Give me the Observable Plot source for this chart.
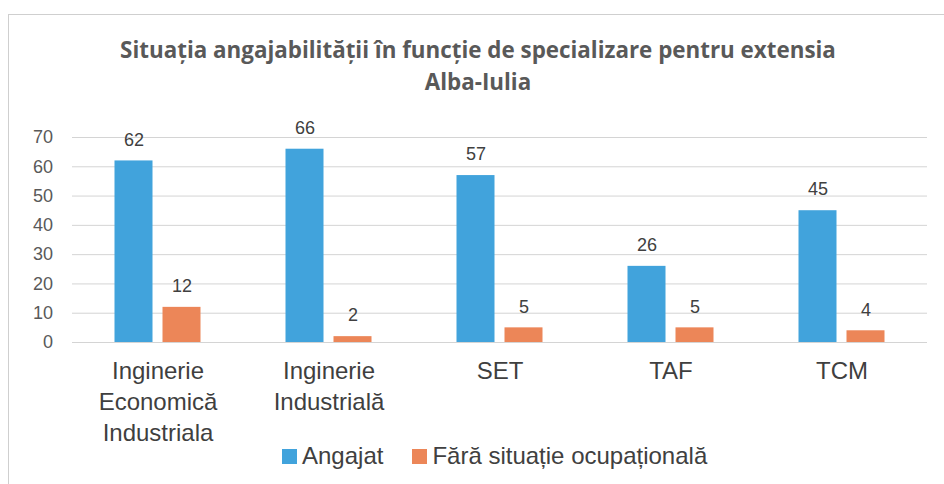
<!DOCTYPE html>
<html><head><meta charset="utf-8">
<script src="https://cdn.jsdelivr.net/npm/d3@7"></script>
<script src="https://cdn.jsdelivr.net/npm/@observablehq/plot@0.6"></script>
<style>
html,body{margin:0;padding:0;background:#fff;}
body{width:944px;height:484px;position:relative;overflow:hidden;font-family:"Liberation Sans",Arial,sans-serif;}
#frame{position:absolute;left:8px;top:14px;width:940px;height:480px;border-left:1px solid #cfcfcf;border-top:1px solid #cfcfcf;}
#title{position:absolute;left:8px;width:940px;top:34px;text-align:center;font-family:"Open Sans",sans-serif;font-weight:bold;color:#595959;line-height:32px;font-size:18px;white-space:nowrap;}
#chart{position:absolute;left:0;top:100px;}
#legend{position:absolute;left:282px;top:441px;height:30px;display:flex;align-items:center;font-size:24px;color:#404040;white-space:nowrap;}
#legend .sw{display:inline-block;width:15px;height:15px;margin-right:5px;}
#legend .item{display:flex;align-items:center;margin-right:29px;}
</style>
</head><body>
<div id="frame"></div>
<div id="title"><span id="t1">Situația angajabilității în funcție de specializare pentru extensia</span><br>Alba-Iulia</div>
<div id="chart"></div>
<div id="legend"></div>
<script>
const categories = ["Inginerie\nEconomică\nIndustriala", "Inginerie\nIndustrială", "SET", "TAF", "TCM"];
const seriesNames = ["Angajat", "Fără situație ocupațională"];
const angajat = [62, 66, 57, 26, 45];
const faraSituatie = [12, 2, 5, 5, 4];
const yTicks = [0, 10, 20, 30, 40, 50, 60, 70];
const colors = ["#41a3dc", "#ec8658"];

const data = [];
categories.forEach((c, i) => {
  data.push({category: c, series: seriesNames[0], value: angajat[i]});
  data.push({category: c, series: seriesNames[1], value: faraSituatie[i]});
});

// fit title width
(function(){
  const t = document.getElementById("t1");
  const target = 716;
  const w = t.getBoundingClientRect().width;
  if (w > 0) {
    const fs = 18 * target / w;
    document.getElementById("title").style.fontSize = fs.toFixed(2) + "px";
  }
})();

const chart = Plot.plot({
  width: 944,
  height: 350,
  marginTop: 37,
  marginBottom: 108,
  marginLeft: 71.5,
  marginRight: 17.5,
  style: {fontFamily: "'Liberation Sans', Arial, sans-serif", background: "transparent"},
  fx: {domain: categories, padding: 0, label: null},
  x: {domain: seriesNames, paddingInner: 0.204, paddingOuter: 0.847, axis: null},
  y: {domain: [0, 70], label: null},
  color: {domain: seriesNames, range: colors},
  marks: [
    Plot.ruleY(yTicks, {y: d => d, stroke: "#d4d4d4", strokeWidth: 1}),
    Plot.barY(data, {fx: "category", x: "series", y: "value", fill: "series"}),
    Plot.text(data, {fx: "category", x: "series", y: "value", text: d => String(d.value), dy: -21, fontSize: 18, fill: "#404040"}),
    Plot.axisY({ticks: yTicks, tickSize: 0, tickPadding: 19.5, fontSize: 18, fill: "#595959", label: null}),
    Plot.axisFx({anchor: "bottom", tickSize: 0, tickPadding: 15, fontSize: 24, lineHeight: 1.29, fill: "#3f3f3f", label: null, lineAnchor: "top"})
  ]
});
document.getElementById("chart").appendChild(chart);

const lg = document.getElementById("legend");
seriesNames.forEach((s, i) => {
  const it = document.createElement("span");
  it.className = "item";
  const sw = document.createElement("span");
  sw.className = "sw";
  sw.style.background = colors[i];
  it.appendChild(sw);
  it.appendChild(document.createTextNode(s));
  lg.appendChild(it);
});
</script>
</body></html>
